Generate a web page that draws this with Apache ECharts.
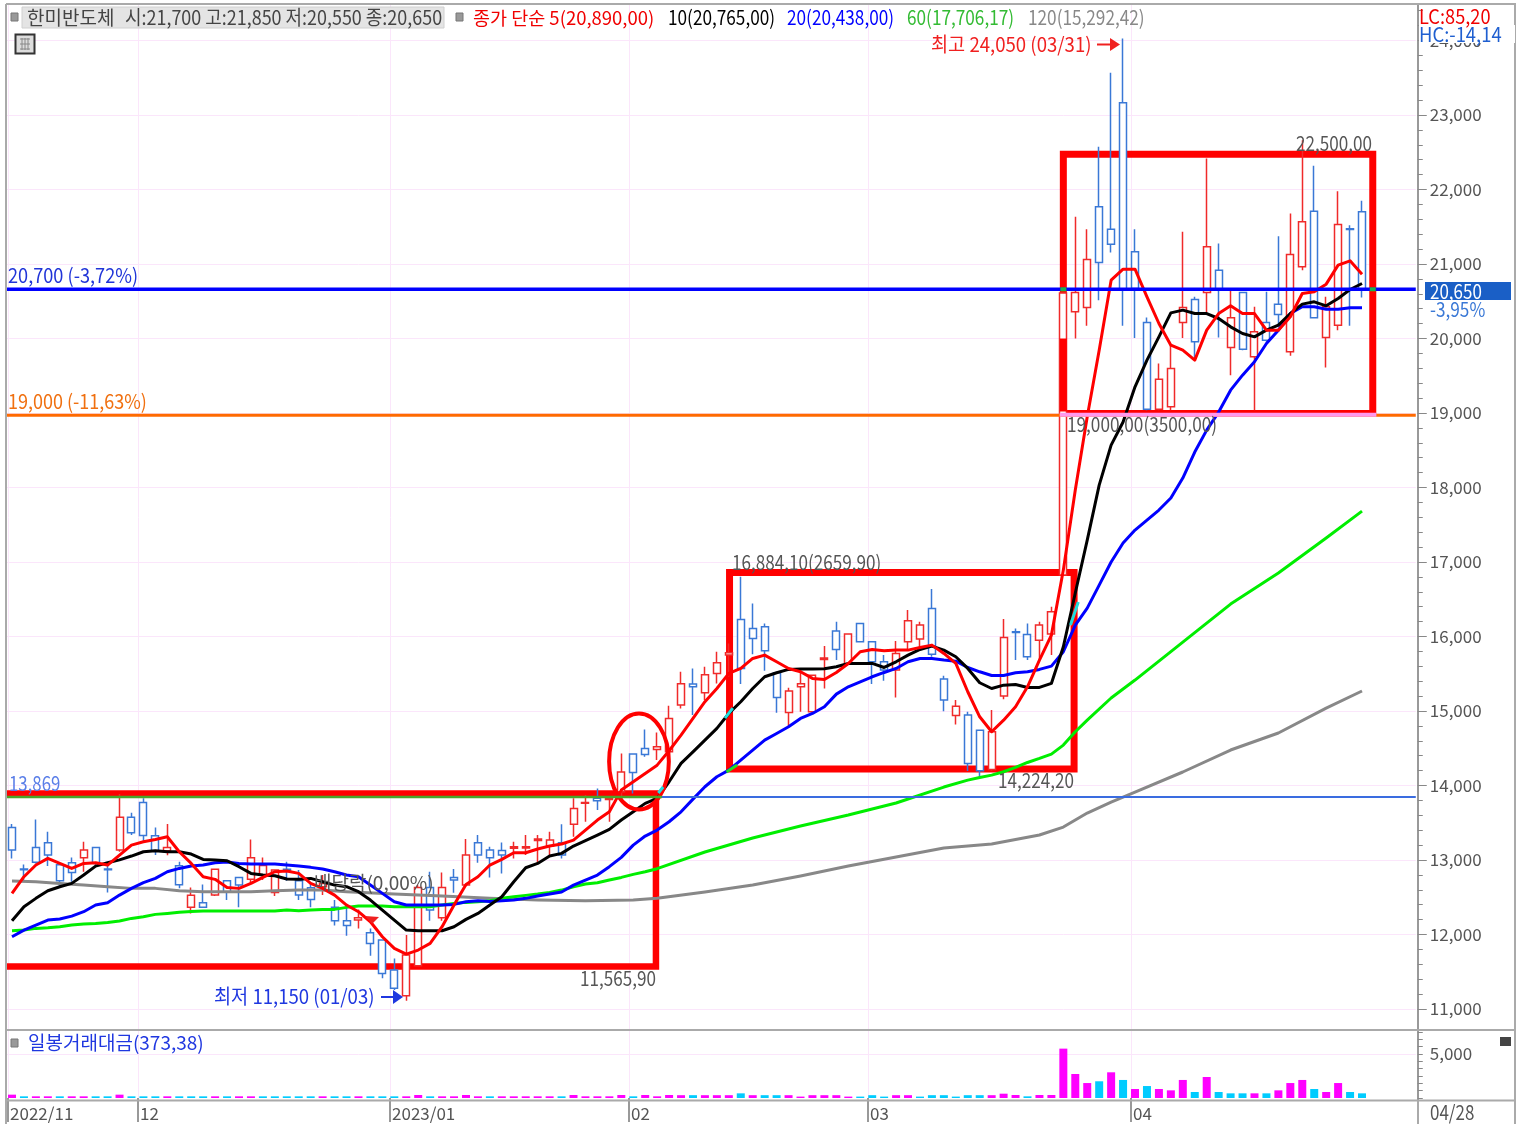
<!DOCTYPE html>
<html><head><meta charset="utf-8">
<style>html,body{margin:0;padding:0;background:#fff}#c{width:1520px;height:1124px}</style>
<script src="https://cdn.jsdelivr.net/npm/echarts@6/dist/echarts.min.js"></script>
</head><body><div id="c"></div>
<script>
const opens=[13437,12878,13169,13232,12936,12963,13030,13169,12878,13133,13572,13773,13326,13124,12923,12364,12426,12529,12722,12766,12740,12798,12565,12874,12722,12628,12641,12364,12185,12194,12024,11925,11523,11178,11581,12632,12225,12766,12663,13232,13133,13129,13156,13160,13263,13187,13232,13478,13760,13827,13813,13916,14421,14497,14484,14452,15079,15361,15244,15504,15750,16229,16108,16130,15513,14980,15325,14989,15692,16072,15629,16175,15929,15660,15549,15929,15965,16376,15428,14940,14945,14743,14215,15200,16063,16027,15951,16032,16824,20357,20416,21767,21467,23163,21163,20214,19051,19082,20214,20523,20617,20917,19879,20617,19754,20214,20461,19821,20962,21709,20013,20179,21472,21700];
const closes=[13133,12869,12968,13066,12722,12833,13133,12963,12869,13572,13366,13330,13124,13169,12668,12525,12364,12874,12574,12663,13030,12927,12865,12851,12529,12471,12686,12185,12122,12225,11880,11478,11277,11724,12632,12328,12632,12731,13066,13066,13030,13066,13178,13178,13281,13267,13066,13692,13773,13795,13827,14180,14175,14417,14520,14900,15365,15325,15486,15647,15781,15571,15974,15808,15182,15267,15365,15481,15710,15826,16032,15929,15660,15549,15772,16211,16153,15763,15146,15065,14296,14197,14721,15987,16054,15727,16153,16332,20609,20617,21060,21020,21266,20657,20671,19051,19454,19597,20416,19955,21230,20657,20277,19857,20089,19977,20322,21127,21566,20277,20425,21530,21463,20650];
const lows=[13021,12731,12954,12918,12650,12708,12842,12932,12565,13111,13335,13245,13066,13062,12619,12283,12364,12516,12462,12364,12686,12731,12516,12722,12462,12364,12529,12122,11983,12082,11715,11411,11254,11111,11581,12185,12185,12561,12641,12963,12766,12820,13021,13066,12963,13066,13021,13312,13514,13670,13514,13826,13893,14385,14341,14430,15034,14945,15146,15370,15459,15361,15763,15540,14976,14788,14989,14976,15302,15683,15616,15920,15361,15405,15182,15817,15862,15728,14998,14819,14193,14117,14197,15159,15683,15683,15683,15750,16824,20000,20170,20514,21154,20170,20008,19038,19038,19038,20008,19731,20335,20013,19508,19843,19038,19955,20156,19767,20917,20268,19610,20112,20170,20550];
const highs=[13482,12941,13545,13379,12963,13035,13245,13178,12954,13885,13634,13827,13437,13482,12977,12632,12672,12874,12731,12775,13276,13035,12865,12977,12865,12686,12798,12462,12395,12337,12082,11925,11679,11992,12663,12842,12833,12878,13281,13335,13178,13236,13245,13335,13335,13379,13478,13827,13871,13961,13858,14430,14430,14752,14712,15070,15526,15571,15593,15795,15907,16801,16443,16175,15526,15311,15549,15481,15871,16197,16032,16175,15929,15750,15938,16354,16197,16636,15473,15146,14989,14743,15012,16233,16108,16175,16197,16399,20609,21633,21467,22572,23565,24026,21467,20281,19664,19910,21431,20559,22416,21275,20648,20626,20425,20626,21373,21678,22662,22317,20559,21977,21521,21850];
const ma5=[12552,12775,12932,13021,12954,12887,12954,12963,12932,13066,13200,13245,13276,13312,13111,12954,12775,12740,12632,12619,12686,12766,12842,12851,12820,12686,12619,12529,12395,12306,12171,11970,11813,11737,11791,11880,12104,12395,12672,12775,12932,13008,13097,13097,13147,13187,13214,13267,13402,13536,13648,13938,14050,14162,14273,14466,14676,14900,15124,15302,15504,15571,15705,15750,15660,15571,15526,15437,15423,15517,15638,15795,15826,15808,15817,15817,15853,15884,15772,15638,15258,14922,14721,14877,15056,15325,15683,16018,16891,17965,18948,19843,20783,20930,20930,20559,20201,19910,19843,19709,20112,20335,20438,20335,20335,20112,20112,20291,20604,20626,20729,20984,21042,20863];
const ma10=[12185,12373,12485,12587,12641,12686,12798,12918,12963,13001,13053,13111,13124,13111,13111,13080,13008,13001,12990,12910,12820,12798,12789,12744,12740,12753,12708,12663,12641,12574,12462,12328,12194,12059,12050,12050,12050,12104,12203,12283,12395,12507,12708,12896,12954,13053,13089,13187,13259,13335,13411,13536,13648,13760,13826,14050,14296,14452,14609,14766,14967,15124,15302,15459,15513,15558,15562,15562,15566,15593,15638,15638,15638,15584,15660,15750,15826,15871,15817,15728,15571,15379,15302,15347,15356,15316,15316,15370,15862,16583,17294,18032,18569,18878,19351,19709,20022,20344,20380,20335,20335,20268,20156,20067,20022,20112,20179,20335,20461,20492,20438,20537,20657,20738];
const ma20=[11970,12059,12127,12194,12207,12247,12306,12395,12426,12529,12619,12695,12753,12842,12887,12918,12932,12963,12972,12954,12945,12945,12945,12932,12918,12901,12878,12842,12798,12775,12663,12552,12440,12395,12395,12395,12395,12404,12440,12453,12444,12453,12462,12485,12516,12543,12570,12663,12731,12798,12910,13035,13200,13321,13402,13513,13647,13817,13983,14117,14206,14341,14475,14609,14698,14788,14900,14967,15056,15226,15325,15392,15459,15517,15571,15660,15705,15705,15683,15669,15584,15526,15477,15477,15513,15526,15558,15602,15795,16153,16381,16690,16999,17254,17428,17562,17697,17858,18126,18475,18770,19012,19306,19508,19687,19933,20112,20335,20425,20425,20393,20393,20411,20411];
const ma60=[12051,12059,12082,12091,12104,12127,12140,12149,12162,12180,12216,12238,12270,12283,12297,12310,12315,12315,12315,12315,12315,12315,12315,12328,12319,12328,12337,12337,12364,12382,12382,12382,12373,12373,12373,12373,12395,12417,12431,12440,12453,12485,12507,12525,12543,12565,12596,12641,12677,12695,12731,12766,12807,12842,12883,null,null,null,13107,null,null,null,13295,null,null,null,13456,null,null,null,13603,null,null,null,13765,null,null,null,13979,null,14072,14108,14139,14184,14242,14309,14363,14421,14542,14721,14877,null,15174,null,15415,null,null,null,15925,null,null,null,16435,null,null,null,16851,null,null,null,17321,null,null,17683];
const ma120=[12717,null,12708,null,12686,null,12663,null,12641,null,12619,null,12619,null,12587,null,12574,null,12574,null,12574,null,12587,null,12596,null,12596,null,12574,null,null,null,12543,null,null,null,12516,null,null,null,12485,null,null,null,12462,null,null,null,12453,null,null,null,12462,null,12485,null,null,null,12570,null,null,null,12664,null,null,null,12785,null,null,null,12919,null,null,null,13040,null,null,null,13161,null,null,null,13214,null,null,null,13335,null,13442,null,13630,null,13778,null,13912,null,null,null,14181,null,null,null,14476,null,null,null,14704,null,null,null,15039,null,null,15268];
const volumes=[380,190,190,190,190,190,190,190,190,380,190,190,190,190,190,190,190,190,190,190,190,190,190,190,190,190,190,190,190,190,190,190,190,190,340,190,190,190,340,190,190,190,190,190,190,190,190,340,190,190,190,340,190,340,190,340,320,320,320,320,320,530,320,320,320,320,160,320,320,320,160,160,320,160,320,320,160,320,320,160,320,320,320,490,340,190,340,340,5610,2730,1700,1900,2920,2050,1020,1360,1020,870,2050,680,2390,680,530,530,530,530,870,1700,2050,1020,680,1700,680,530];
const volumeUp=[1,0,1,1,0,1,1,0,0,1,0,0,0,1,0,0,0,1,0,1,1,0,0,0,0,0,1,0,0,1,0,0,0,1,1,0,1,1,1,1,0,1,1,1,1,1,0,1,1,1,1,1,0,1,1,1,1,0,1,1,1,0,1,0,0,1,1,1,1,1,1,0,0,0,1,1,0,0,0,0,0,0,1,1,1,0,1,1,1,1,1,0,1,0,1,0,1,1,1,0,1,0,0,0,1,0,1,1,1,0,1,1,0,0];
const priceTicks=[11000,12000,13000,14000,15000,16000,17000,18000,19000,20000,21000,22000,23000,24000];
const minorTicks=[11000,11200,11400,11600,11800,12000,12200,12400,12600,12800,13000,13200,13400,13600,13800,14000,14200,14400,14600,14800,15000,15200,15400,15600,15800,16000,16200,16400,16600,16800,17000,17200,17400,17600,17800,18000,18200,18400,18600,18800,19000,19200,19400,19600,19800,20000,20200,20400,20600,20800,21000,21200,21400,21600,21800,22000,22200,22400,22600,22800,23000,23200,23400,23600,23800,24000,24200,24400];
const monthLabels=['2022/11','12','2023/01','02','03','04'];
const monthSlots=[0.17,11.05,32.14,52.15,72.15,94.16];
const frameTop=[[88.5,19019],[88.5,22474],[114.4,22474],[114.4,19019]];
const frame2=[[60.56,14221],[60.56,16858],[89.4,16858],[89.4,14221],[60.56,14221]];
const frame1=[[0.05,11570],[54.4,11570],[54.4,13892],[0.05,13892]];
const cyanBits=[[60.18,14905],[60.83,15039],[null,null],[89.1,16153],[89.75,16462],[null,null],[54.6,13899],[55,13979]];
const greenBits=[[60.3,14180],[61.2,14274]];

const FONT='"Noto Sans CJK KR","Liberation Sans",sans-serif';
const RED='#f02a2a',BLUE='#3a78d6';
const slots=118;
const cats=Array.from({length:slots},(_,i)=>'d'+i);
function seg(name,data,color,width,z,cap){return {name,type:'line',xAxisIndex:1,yAxisIndex:0,data,symbol:'none',silent:true,z,
  lineStyle:{color,width,cap:cap||'square',join:'miter'}}}
function ma(name,data,color,connect){return {name,type:'line',xAxisIndex:0,yAxisIndex:0,data,symbol:'none',smooth:false,connectNulls:!!connect,silent:true,z:5,
  lineStyle:{color,width:3,join:'round'}}}
function T(x,y,text,fill,size,sx){return {type:'text',x,y,z:50,silent:true,scaleX:sx||1,style:{text,fill,font:size+'px '+FONT,textVerticalAlign:'middle',textAlign:'left'}}}
function L(x1,y1,x2,y2,stroke,w,z){return {type:'line',z:z||40,silent:true,shape:{x1,y1,x2,y2},style:{stroke,lineWidth:w||2}}}
function R(x,y,width,height,fill,stroke,w){return {type:'rect',z:45,silent:true,shape:{x,y,width,height},style:{fill,stroke:stroke||null,lineWidth:w||0}}}
function Tri(pts,fill){return {type:'polygon',z:46,silent:true,shape:{points:pts},style:{fill}}}
function icon(x,y){return R(x,y,7,8,'#999','#777',1)}

const graphic=[
  L(6,4,1516,4,'#aaa',2),L(6,4,6,1124,'#aaa',2),L(1515,4,1515,1124,'#aaa',2),
  L(6,1030,1516,1030,'#aaa',2),L(6,1100.5,1516,1100.5,'#aaa',2),L(1418,1100,1418,1124,'#aaa',2),
  R(22,7,422,21,'#e4e4e4','#d0d0d0',1),icon(11,13),icon(456,13),
  T(27,17.5,'한미반도체','#444',19),
  T(125,17.5,'시:21,700 고:21,850 저:20,550 종:20,650','#444',20,.897),
  T(473,17.5,'종가 단순 5(20,890,00)','#f00000',18.5),
  T(668,17.5,'10(20,765,00)','#000',20,.86),
  T(787,17.5,'20(20,438,00)','#0000ff',20,.86),
  T(907,17.5,'60(17,706,17)','#33bb33',20,.86),
  T(1028,17.5,'120(15,292,42)','#888',20,.86),
  R(15.5,34.5,19,19,'#ddd','#333',2),L(20,39,30,39,'#888',1,47),L(20,44,30,44,'#888',1,47),L(20,49,30,49,'#888',1,47),L(22,38,22,50,'#888',1,47),L(25,38,25,50,'#888',1,47),L(28,38,28,50,'#888',1,47),
  R(1419,25,96,18,'#fff'),
  T(1419,16,'LC:85,20','#f00000',20,.91),
  T(1419,34,'HC:-14,14','#1f5fd0',20,.92),
  R(1425,282,86,18,'#1a5fc6'),
  T(1430,291,'20,650','#fff',20,.85),
  T(1430,309,'-3,95%','#3a78d6',20,.86),
  T(931,44,'최고 24,050 (03/31)','#f02020',20,.93),
  L(1097,44.5,1112,44.5,'#f02020',2),Tri([[1110,38],[1120,44.5],[1110,51]],'#f02020'),
  T(1296,143,'22,500,00','#555',20,.855),
  T(1067,424,'19,000,00(3500,00)','#555',20,.86),
  T(732,562,'16,884,10(2659,90)','#555',20,.856),
  T(998,780,'14,224,20','#555',20,.855),
  T(580,978,'11,565,90','#555',20,.855),
  T(214,996,'최저 11,150 (01/03)','#1f37e0',20,.93),
  L(381,997,395,997,'#1f37e0',2),Tri([[393,990],[403,997],[393,1004]],'#1f37e0'),
  T(8,275,'20,700 (-3,72%)','#2034d8',20,.908),
  T(8,401,'19,000 (-11,63%)','#f07010',20,.90),
  T(9,783,'13,869','#5a7ee8',20,.84),
  T(314,883,'배당락(0,00%)','#555',19),
  Tri([[365,916],[379,917],[372,924]],'#f02020'),
  icon(11,1039),
  T(28,1043,'일봉거래대금(373,38)','#1f37e0',19),
  R(1500,1037,11,9,'#444'),
  T(1430,1112,'04/28','#555',20,.85)
];

const option={
  animation:false,backgroundColor:'#fff',
  graphic:{elements:graphic},
  grid:[
    {left:6.03,top:5,width:slots*11.947,height:1025,containLabel:false},
    {left:6.03,top:1030,width:slots*11.947,height:70,containLabel:false}
  ],
  xAxis:[
    {type:'category',gridIndex:0,data:cats,show:false,boundaryGap:true},
    {type:'value',gridIndex:0,min:0,max:slots,position:'bottom',axisLine:{show:false},axisLabel:{show:false},
      axisTick:{show:false,customValues:monthSlots},splitLine:{show:true,lineStyle:{color:'#fbe6fb',width:1}}},
    {type:'category',gridIndex:1,data:cats,show:false,boundaryGap:true},
    {type:'value',gridIndex:1,min:0,max:slots,position:'bottom',axisLine:{show:false},
      axisTick:{show:true,length:24,customValues:monthSlots,lineStyle:{color:'#999',width:2}},
      axisLabel:{show:true,customValues:monthSlots,margin:5,align:'left',padding:[0,0,0,2],color:'#555',fontSize:17,fontFamily:FONT,
        formatter:v=>{const i=monthSlots.indexOf(v);return i<0?'':monthLabels[i]}},
      splitLine:{show:true,lineStyle:{color:'#fbe6fb',width:1}}}
  ],
  yAxis:[
    {type:'value',gridIndex:0,position:'right',offset:2,min:10718,max:24476,scale:true,
      axisLine:{show:true,onZero:false,lineStyle:{color:'#999',width:2}},
      axisTick:{show:true,length:5,customValues:minorTicks,lineStyle:{color:'#888',width:1}},
      axisLabel:{customValues:priceTicks,margin:12,color:'#555',fontSize:17,fontFamily:FONT,formatter:v=>v.toLocaleString('en-US')},
      splitLine:{show:false}},
    {type:'value',gridIndex:0,position:'left',offset:-(slots*11.947+2),min:10718,max:24476,scale:true,
      axisLine:{show:false},axisLabel:{show:false},
      axisTick:{show:true,inside:true,length:9,lineStyle:{color:'#888',width:1},customValues:priceTicks},
      splitLine:{show:true,lineStyle:{color:'#fbe6fb',width:1}}},
    {type:'value',gridIndex:1,position:'right',offset:2,min:-227,max:7727,
      axisLine:{show:true,onZero:false,lineStyle:{color:'#999',width:2}},
      axisTick:{show:true,length:5,customValues:[0,833,1667,2500,3333,4167,5000,5833,6667,7500],lineStyle:{color:'#888',width:1}},
      axisLabel:{customValues:[5000],margin:12,color:'#555',fontSize:17,fontFamily:FONT,formatter:v=>v.toLocaleString('en-US')},
      splitLine:{show:false}},
    {type:'value',gridIndex:1,position:'left',min:-227,max:7727,show:true,
      axisLine:{show:false},axisLabel:{show:false},axisTick:{show:false,customValues:[5000]},
      splitLine:{show:true,lineStyle:{color:'#fbe6fb',width:1}}}
  ],
  series:[
    seg('box1',frame1,'#ff0000',6.5,1,'butt'),
    seg('box2',frame2,'#ff0000',7,1),
    seg('box3',frameTop,'#ff0000',7,1),
    seg('box3bottom',[[88.5,19019],[114.4,19019]],'#ff0000',3,1),
    {name:'candles',type:'candlestick',xAxisIndex:0,yAxisIndex:0,silent:true,z:3,barWidth:7.5,
      data:opens.map((o,i)=>[o,closes[i],lows[i],highs[i]]),
      itemStyle:{color:'#fff',color0:'#fff',borderColor:RED,borderColor0:BLUE,borderWidth:1.5}},
    seg('box3edge',[[88.5,19019],[88.5,20000]],'#ff0000',7,4,'butt'),
    ma('MA120',ma120,'#888888',true),
    ma('MA60',ma60,'#00ee00',true),
    ma('MA20',ma20,'#0000ff'),
    ma('MA10',ma10,'#000000'),
    ma('MA5',ma5,'#ff0000'),
    seg('crossCyan',cyanBits,'#22dddd',3,6,'butt'),
    seg('crossGreen',greenBits,'#22dd22',3,6,'butt'),
    seg('level13869',[[54.4,13845],[118,13845]],'#3a6ce0',2,6,'butt'),
    seg('green13869',[[0,13845],[54.9,13845]],'#4aa52a',2.5,6,'butt'),
    seg('level19000',[[0,18970],[118,18970]],'#ff6a00',3,6,'butt'),
    seg('pink',[[88.2,18975],[114.7,18975]],'#ff99ee',4,7,'butt'),
    seg('level20700',[[0,20660],[118,20660]],'#0000ff',3.5,7,'butt'),
    {name:'marks',type:'scatter',xAxisIndex:1,yAxisIndex:0,silent:true,z:8,symbol:'rect',symbolSize:[6,4],itemStyle:{color:'#22dd22'},data:[[88.5,20660],[114.4,20660]]},
    {name:'ring',type:'custom',xAxisIndex:1,yAxisIndex:0,silent:true,z:6,data:[[52.98,14322,2.5,644]],clip:false,
      renderItem:(p,api)=>{const c=api.coord([api.value(0),api.value(1)]);const s=api.size([api.value(2),api.value(3)]);
        return {type:'ellipse',shape:{cx:c[0],cy:c[1],rx:s[0],ry:s[1]},style:{fill:null,stroke:'#ff0000',lineWidth:4}}},
      encode:{x:0,y:1}},
    {name:'거래대금',type:'bar',xAxisIndex:2,yAxisIndex:2,silent:true,barWidth:8,z:3,
      data:volumes.map((v,i)=>({value:v,itemStyle:{color:volumeUp[i]?'#ff00ff':'#00ccff'}}))}
  ]
};
const chart=echarts.init(document.getElementById('c'),null,{renderer:'canvas'});
chart.setOption(option);
</script></body></html>
